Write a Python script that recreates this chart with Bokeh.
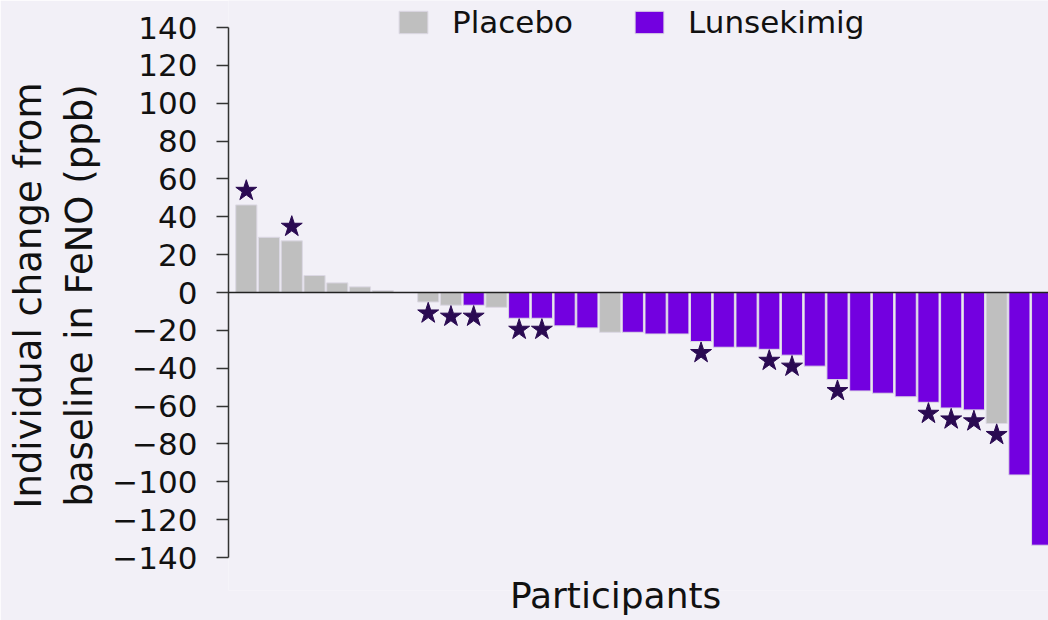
from bokeh.plotting import figure
from bokeh.models import (ColumnDataSource, Span, Legend, LegendItem,
                          FixedTicker, Range1d)
from bokeh.embed import file_html
from bokeh.resources import INLINE

# ---- data ----
participants = list(range(1, 37))
groups = ["Placebo"] * 7 + ["Lunsekimig"] + ["Placebo", "Placebo", "Lunsekimig", "Placebo",
          "Lunsekimig", "Lunsekimig", "Lunsekimig", "Lunsekimig", "Placebo"] + ["Lunsekimig"] * 16 + \
         ["Placebo", "Lunsekimig", "Lunsekimig"]
change = [46.3, 29.2, 27.3, 9.0, 5.1, 3.0, 1.0, 0.0,
          -5.0, -6.7, -6.7, -7.8, -13.6, -13.6, -17.6, -18.7, -21.0,
          -21.0, -21.9, -21.9, -25.9, -28.9, -28.9, -30.0, -33.1, -38.9, -46.0,
          -52.0, -53.2, -55.1, -58.0, -61.0, -62.0, -69.2, -96.4, -133.5]
star = [1, 0, 1, 0, 0, 0, 0, 0,
        1, 1, 1, 0, 1, 1, 0, 0, 0,
        0, 0, 0, 1, 0, 0, 1, 1, 0, 1,
        0, 0, 0, 1, 1, 1, 1, 0, 0]
y_ticks = list(range(-140, 141, 20))
group_colors = {"Placebo": "#bfbfbf", "Lunsekimig": "#7300e0"}

BG = "#f2f0f7"
FONT = "DejaVu Sans"

src = ColumnDataSource(dict(x=participants, top=change, group=groups,
                            color=[group_colors[g] for g in groups]))

sx = [x for x, s in zip(participants, star) if s]
sy = [v + (7.5 if v > 0 else -6) for v, s in zip(change, star) if s]
star_src = ColumnDataSource(dict(x=sx, y=sy))

p = figure(width=1048, height=620, output_backend="svg", toolbar_location=None,
           x_range=Range1d(0.217, 36.28), y_range=Range1d(-157.43, 154.3),
           min_border_left=228, min_border_right=0, min_border_top=0, min_border_bottom=30)
p.background_fill_color = BG
p.border_fill_color = BG
p.outline_line_color = None
p.xgrid.visible = False
p.ygrid.visible = False

xax = p.xaxis[0]
xax.ticker = FixedTicker(ticks=[])
xax.axis_line_color = None
xax.major_tick_line_color = None
xax.minor_tick_line_color = None
xax.major_label_standoff = 0
# trailing no-break spaces shift the centred label left, as in the reference
xax.axis_label = "Participants" + "\u00a0" * 4
xax.axis_label_text_font = FONT
xax.axis_label_text_font_size = "36px"
xax.axis_label_text_font_style = "normal"
xax.axis_label_text_color = "#111111"
xax.axis_label_standoff = -16

yax = p.yaxis[0]
yax.ticker = FixedTicker(ticks=y_ticks)
yax.bounds = (-140, 140)
yax.axis_line_color = "#333333"
yax.axis_line_width = 1.5
yax.major_tick_line_color = "#333333"
yax.major_tick_line_width = 1.5
yax.major_tick_out = 12
yax.major_tick_in = 0
yax.minor_tick_line_color = None
yax.major_label_text_font = FONT
yax.major_label_text_font_size = "31px"
yax.major_label_text_color = "#111111"
yax.major_label_standoff = 19
yax.axis_label = "Individual change from\nbaseline in FeNO (ppb)"
yax.axis_label_text_font = FONT
yax.axis_label_text_font_size = "37px"
yax.axis_label_text_font_style = "normal"
yax.axis_label_text_color = "#111111"
yax.axis_label_standoff = 8

bars = p.vbar(x="x", top="top", bottom=0, width=0.93, source=src,
              fill_color="color", line_color="#dcd8e4", line_width=1)

p.add_layout(Span(location=0, dimension="width", line_color="#222222", line_width=1.5))

p.scatter(x="x", y="y", source=star_src, marker="star", size=22,
          fill_color="#2a0a52", line_color="#2a0a52")

legend = Legend(items=[LegendItem(label="Placebo", renderers=[bars], index=0),
                       LegendItem(label="Lunsekimig", renderers=[bars], index=7)],
                orientation="horizontal", location=(167, 550),
                glyph_width=36, glyph_height=28, label_standoff=21, spacing=58,
                padding=0, margin=0, border_line_color=None,
                background_fill_alpha=0,
                label_text_font=FONT, label_text_font_size="31px",
                label_text_color="#111111")
p.add_layout(legend)

open("out.html", "w").write(file_html(p, INLINE))
